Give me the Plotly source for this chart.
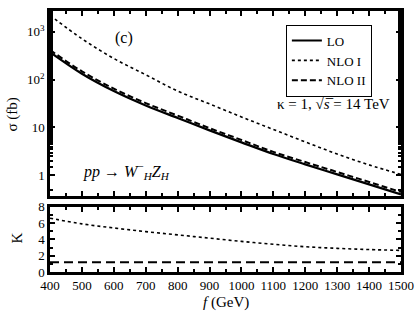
import plotly.graph_objects as go

f_gev = [400, 500, 600, 700, 800, 900, 1000, 1100, 1200, 1300, 1400, 1500]
sigma_lo = [372, 132, 57.5, 28.8, 15.8, 8.7, 4.9, 2.8, 1.7, 1.05, 0.65, 0.40]
sigma_nlo1 = [2190, 710, 275, 126, 57.5, 31, 16.6, 9.1, 5.0, 2.8, 1.66, 1.05]
sigma_nlo2 = [415, 148, 64.5, 32.3, 17.7, 9.7, 5.5, 3.1, 1.9, 1.18, 0.73, 0.45]
k_nlo1 = [6.6, 5.9, 5.4, 4.95, 4.55, 4.15, 3.75, 3.4, 3.1, 2.9, 2.75, 2.65]
k_nlo2 = [1.2, 1.2, 1.2, 1.2, 1.2, 1.2, 1.2, 1.2, 1.2, 1.2, 1.2, 1.2]
y_tickvals = [1, 10, 100, 1000]
y_ticktext = ["1", "10", "10<sup>2</sup>", "10<sup>3</sup>"]
x_tickvals = [400, 500, 600, 700, 800, 900, 1000, 1100, 1200, 1300, 1400, 1500]

FONT = "Liberation Serif"

fig = go.Figure()
fig.add_trace(go.Scatter(x=f_gev, y=sigma_lo, mode="lines", name="LO",
                         line=dict(color="black", width=2.2, shape="spline"),
                         xaxis="x", yaxis="y"))
fig.add_trace(go.Scatter(x=f_gev, y=sigma_nlo1, mode="lines", name="NLO I",
                         line=dict(color="black", width=1.6, dash="dot", shape="spline"),
                         xaxis="x", yaxis="y"))
fig.add_trace(go.Scatter(x=f_gev, y=sigma_nlo2, mode="lines", name="NLO II",
                         line=dict(color="black", width=2, dash="6px,3px", shape="spline"),
                         xaxis="x", yaxis="y"))
fig.add_trace(go.Scatter(x=f_gev, y=k_nlo1, mode="lines", showlegend=False,
                         line=dict(color="black", width=1.6, dash="dot", shape="spline"),
                         xaxis="x2", yaxis="y2"))
fig.add_trace(go.Scatter(x=f_gev, y=k_nlo2, mode="lines", showlegend=False,
                         line=dict(color="black", width=2, dash="9px,5px"),
                         xaxis="x2", yaxis="y2"))

axis_common = dict(showline=True, linecolor="black", linewidth=2.5, mirror="allticks",
                   ticks="inside", tickcolor="black", tickwidth=1.5, ticklen=5,
                   showgrid=False, zeroline=False,
                   tickfont=dict(family=FONT, size=13, color="black"))

def ann(text, x, y, size, angle=0):
    return dict(text=text, xref="paper", yref="paper", x=x, y=y,
                xanchor="center", yanchor="middle", textangle=angle,
                showarrow=False, font=dict(family=FONT, size=size, color="black"))

fig.update_layout(
    width=418, height=315,
    margin=dict(l=50, r=14, t=4, b=43),
    paper_bgcolor="white", plot_bgcolor="white",
    font=dict(family=FONT, size=13, color="black"),
    showlegend=True,
    legend=dict(x=0.672, y=0.948, xanchor="left", yanchor="top",
                bordercolor="black", borderwidth=1, bgcolor="white",
                font=dict(family=FONT, size=13), tracegroupgap=0,
                itemwidth=30),
    xaxis=dict(domain=[0, 1], anchor="y", range=[400, 1500], tickvals=x_tickvals,
               showticklabels=False,
               minor=dict(ticks="inside", dtick=50, ticklen=3, tickcolor="black"),
               **axis_common),
    yaxis=dict(domain=[0.291, 1], anchor="x", type="log", range=[-0.43, 3.43],
               tickvals=y_tickvals, ticktext=y_ticktext,
               minor=dict(ticks="inside", ticklen=3, tickcolor="black"),
               **axis_common),
    xaxis2=dict(domain=[0, 1], anchor="y2", range=[400, 1500], tickvals=x_tickvals,
                minor=dict(ticks="inside", dtick=50, ticklen=3, tickcolor="black"),
                **axis_common),
    yaxis2=dict(domain=[0, 0.25], anchor="x2", range=[0, 8], tickvals=[0, 2, 4, 6, 8],
                minor=dict(ticks="inside", dtick=1, ticklen=3, tickcolor="black"),
                **axis_common),
    annotations=[
        ann("σ (fb)", -0.107, 0.605, 15, -90),
        ann("K", -0.093, 0.13, 15, -90),
        ann("<i>f</i> (GeV)", 0.5, -0.116, 15),
        ann("(c)", 0.212, 0.895, 16),
        ann("κ = 1, √<i>s</i>\u0305 = 14 TeV", 0.808, 0.642, 15),
        ann("<i>pp</i> → <i>W</i><sup>−</sup><sub><i>H</i></sub><i>Z</i><sub><i>H</i></sub>",
            0.218, 0.388, 16),
    ],
)

fig.write_html("out.html", config={"displayModeBar": False},
               post_script="document.body.style.margin='0';document.body.style.padding='0';")
